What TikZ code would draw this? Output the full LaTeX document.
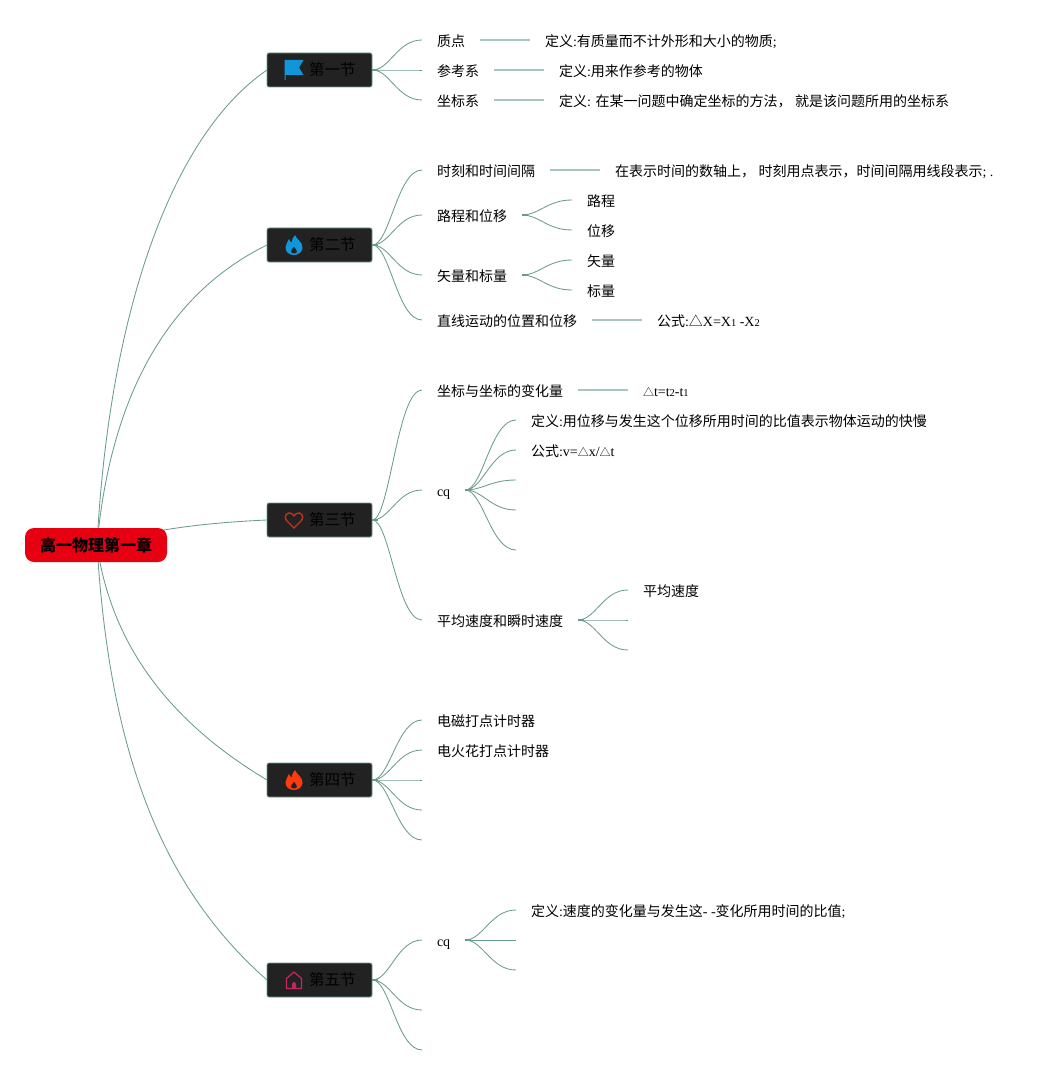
\documentclass[tikz,border=0pt]{standalone}
\usepackage{fontspec}
\setmainfont{Liberation Serif}
\newfontfamily\cjkfont{Noto Sans CJK SC}
\usetikzlibrary{calc}
\newcommand\zh[1]{{\cjkfont #1}}
\newcommand\sm[1]{{\fontsize{10.5}{10}\selectfont #1}}
\newcommand\tri{{\cjkfont\fontsize{11}{11}\selectfont △}}
\newcommand\sectext[1]{\hspace*{25.5pt}\raisebox{-1pt}{#1}}
\definecolor{conncol}{HTML}{6A9C8C}
\definecolor{palecol}{HTML}{A9C6BC}
\definecolor{boxcol}{HTML}{222222}
\definecolor{rootcol}{HTML}{E60012}
\tikzset{
 conn/.style={draw=conncol,line width=0.85pt},
 stub/.style={draw=conncol,line width=1.6pt},
 lead/.style={draw=palecol,line width=1.8pt,shorten <=15pt,shorten >=15pt},
 item/.style={anchor=west,inner sep=0pt,outer sep=0pt,text height=14.5pt,text depth=1.5pt,font=\fontsize{14}{16}\selectfont,text=black},
 secbox/.style={draw=conncol,fill=boxcol,rounded corners=2pt,line width=0.8pt,minimum width=105pt,minimum height=34pt,inner sep=0pt,font=\fontsize{15.5}{18}\selectfont\cjkfont,text=black},
 rootbox/.style={fill=rootcol,rounded corners=9pt,minimum width=142pt,minimum height=34pt,inner sep=0pt,font=\fontsize{16}{18}\selectfont\cjkfont\bfseries,text=black},
}
\newcommand\scurve[2]{%
 \draw[stub] (#1) -- ++(6,0);
 \draw[conn] let \p1=(#1),\p2=(#2) in (\p1) .. controls ({\x1+0.35*(\x2-\x1)},\y1) and ({\x1+0.5*(\x2-\x1)},\y2) .. (\p2);}
\newcommand\slink[2]{\scurve{#1}{$(#2)+(-15,0)$}}
\newcommand\blink[2]{\scurve{$(#1)+(15,0)$}{$(#2)+(-15,0)$}}
\begin{document}
\begin{tikzpicture}[x=1pt,y=-1pt]
\useasboundingbox (0,0) rectangle (1054,1075);
% root curves go first, the root box hides their start
\coordinate (rc) at (97,545);
\coordinate (s1w) at (267,70);
\coordinate (s2w) at (267,245);
\coordinate (s3w) at (267,520);
\coordinate (s4w) at (267,780);
\coordinate (s5w) at (267,980);
\draw[conn] (rc) .. controls (108,330) and (165,140) .. (s1w);
\draw[conn] (rc) .. controls (110,400) and (165,295) .. (s2w);
\draw[conn] (rc) .. controls (150,530) and (200,523) .. (s3w);
\draw[conn] (rc) .. controls (112,650) and (175,725) .. (s4w);
\draw[conn] (rc) .. controls (110,760) and (165,890) .. (s5w);
\node[rootbox] (root) at (96,545) {\raisebox{-0.5pt}{高一物理第一章}};
\node[secbox] (s1) at (319.5,70) {\sectext{第一节}};
\node[secbox] (s2) at (319.5,245) {\sectext{第二节}};
\node[secbox] (s3) at (319.5,520) {\sectext{第三节}};
\node[secbox] (s4) at (319.5,780) {\sectext{第四节}};
\node[secbox] (s5) at (319.5,980) {\sectext{第五节}};
% icons
\begin{scope}[shift={(294,70)}]
 \definecolor{ic}{HTML}{1296DB}
 \fill[ic] (-9.5,-10) -- (9.5,-10) -- (5,-2.5) -- (9.5,5) -- (-8.5,5) -- (-8.5,10) -- (-9.5,10) -- cycle;
\end{scope}
\newcommand\flame[1]{\fill[#1,even odd rule] (1,-10) .. controls (2,-6) and (9,-3) .. (8.5,3) .. controls (8.2,7) and (4,10) .. (0,10) .. controls (-5,10) and (-8.5,7) .. (-8.5,2.5) .. controls (-8.5,-1) and (-6,-3) .. (-5,-6) .. controls (-4,-4) and (-3.5,-3) .. (-2.5,-2.5) .. controls (-2,-5) and (-1,-8) .. (1,-10) -- cycle (0,1.5) .. controls (-2,4) and (-3.5,5.5) .. (-3,7) .. controls (-2.5,9) and (2.5,9) .. (3,7) .. controls (3.5,5.5) and (1.5,3.5) .. (0,1.5) -- cycle;}
\begin{scope}[shift={(294,245)}]
 \definecolor{ic}{HTML}{1296DB}\flame{ic}
\end{scope}
\begin{scope}[shift={(294,520)}]
 \definecolor{ic}{HTML}{C0341D}
 \draw[ic,line width=1.4pt] (0,8) -- (-7.5,0.5) .. controls (-11,-3.5) and (-6.5,-9) .. (-2.5,-6.5) .. controls (-1.2,-5.8) and (-0.5,-5) .. (0,-4.2) .. controls (0.5,-5) and (1.2,-5.8) .. (2.5,-6.5) .. controls (6.5,-9) and (11,-3.5) .. (7.5,0.5) -- cycle;
\end{scope}
\begin{scope}[shift={(294,780)}]
 \definecolor{ic}{HTML}{FF3A0F}\flame{ic}
\end{scope}
\begin{scope}[shift={(294,980)}]
 \definecolor{ic}{HTML}{C4245F}
 \draw[ic,line width=1.3pt,line join=round] (-7.5,8.5) -- (-7.5,-1.5) -- (0,-8) -- (7.5,-1.5) -- (7.5,8.5) -- cycle;
 \fill[ic] (-2,8.5) -- (-2,4) arc (180:360:2) -- (2,8.5) -- cycle;
\end{scope}
% section 1
\node[item] (a1) at (437,40) {\zh{质点}};
\node[item] (a1d) at (545,40) {\zh{定义}:\zh{有质量而不计外形和大小的物质};};
\node[item] (a2) at (437,70) {\zh{参考系}};
\node[item] (a2d) at (559,70) {\zh{定义}:\zh{用来作参考的物体}};
\node[item] (a3) at (437,100) {\zh{坐标系}};
\node[item] (a3d) at (559,100) {\zh{定义}: \zh{在某一问题中确定坐标的方法，} \zh{就是该问题所用的坐标系}};
\slink{s1.east}{a1.west}\slink{s1.east}{a2.west}\slink{s1.east}{a3.west}
\draw[lead] (a1) -- (a1d);
\draw[lead] (a2) -- (a2d);
\draw[lead] (a3) -- (a3d);
% section 2
\node[item] (b1) at (437,170) {\zh{时刻和时间间隔}};
\node[item] (b1d) at (615,170) {\zh{在表示时间的数轴上，} \zh{时刻用点表示，时间间隔用线段表示}; .};
\node[item] (b2) at (437,215) {\zh{路程和位移}};
\node[item] (b2a) at (587,200) {\zh{路程}};
\node[item] (b2b) at (587,230) {\zh{位移}};
\node[item] (b3) at (437,275) {\zh{矢量和标量}};
\node[item] (b3a) at (587,260) {\zh{矢量}};
\node[item] (b3b) at (587,290) {\zh{标量}};
\node[item] (b4) at (437,320) {\zh{直线运动的位置和位移}};
\node[item] (b4d) at (657,320) {\zh{公式}:\zh{△}X=X\sm{1} -X\sm{2}};
\slink{s2.east}{b1.west}\slink{s2.east}{b2.west}\slink{s2.east}{b3.west}\slink{s2.east}{b4.west}
\blink{b2.east}{b2a.west}\blink{b2.east}{b2b.west}
\blink{b3.east}{b3a.west}\blink{b3.east}{b3b.west}
\draw[lead] (b1) -- (b1d);
\draw[lead] (b4) -- (b4d);
% section 3
\node[item] (c1) at (437,390) {\zh{坐标与坐标的变化量}};
\node[item] (c1d) at (643,390) {\tri t=t\sm{2}-t\sm{1}};
\node[item] (c2) at (437,490) {cq};
\node[item] (c2a) at (531,420) {\zh{定义}:\zh{用位移与发生这个位移所用时间的比值表示物体运动的快慢}};
\node[item] (c2b) at (531,450) {\zh{公式}:v=\tri x/\tri t};
\coordinate (c2c) at (531,480);
\coordinate (c2d) at (531,510);
\coordinate (c2e) at (531,550);
\node[item] (c3) at (437,620) {\zh{平均速度和瞬时速度}};
\node[item] (c3a) at (643,590) {\zh{平均速度}};
\coordinate (c3b) at (643,620);
\coordinate (c3c) at (643,650);
\slink{s3.east}{c1.west}\slink{s3.east}{c2.west}\slink{s3.east}{c3.west}
\draw[lead] (c1) -- (c1d);
\blink{c2.east}{c2a.west}\blink{c2.east}{c2b.west}\blink{c2.east}{c2c}\blink{c2.east}{c2d}\blink{c2.east}{c2e}
\blink{c3.east}{c3a.west}\blink{c3.east}{c3b}\blink{c3.east}{c3c}
% section 4
\node[item] (d1) at (437,720) {\zh{电磁打点计时器}};
\node[item] (d2) at (437,750) {\zh{电火花打点计时器}};
\coordinate (d3) at (437,780);
\coordinate (d4) at (437,810);
\coordinate (d5) at (437,840);
\slink{s4.east}{d1.west}\slink{s4.east}{d2.west}\slink{s4.east}{d3}\slink{s4.east}{d4}\slink{s4.east}{d5}
% section 5
\node[item] (e1) at (437,940) {cq};
\node[item] (e1a) at (531,910) {\zh{定义}:\zh{速度的变化量与发生这}- -\zh{变化所用时间的比值};};
\coordinate (e1b) at (531,940);
\coordinate (e1c) at (531,970);
\coordinate (e2) at (437,1010);
\coordinate (e3) at (437,1050);
\slink{s5.east}{e1.west}\slink{s5.east}{e2}\slink{s5.east}{e3}
\blink{e1.east}{e1a.west}\blink{e1.east}{e1b}\blink{e1.east}{e1c}
\end{tikzpicture}
\end{document}
